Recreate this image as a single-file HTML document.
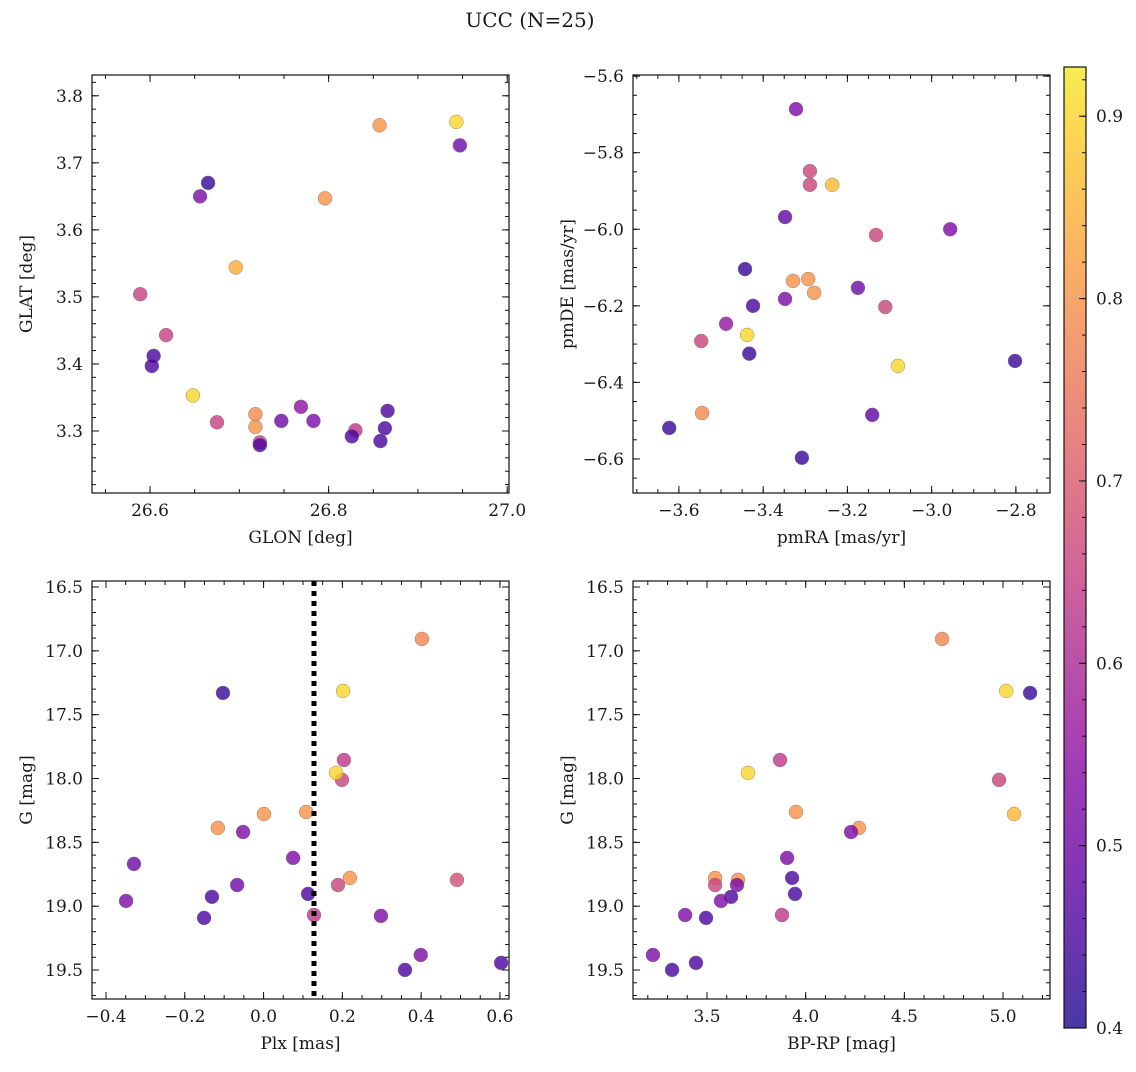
<!DOCTYPE html>
<html><head><meta charset="utf-8"><style>
html,body{margin:0;padding:0;background:#fff;}
svg text{font-family:"DejaVu Serif","Liberation Serif",serif;fill:#1a1a1a;}
</style></head><body>
<svg id="fig" width="1136" height="1067" xmlns="http://www.w3.org/2000/svg">
<text x="530" y="27" font-size="20" text-anchor="middle">UCC (N=25)</text>
</svg>
<script>
// Panel data
const glon=[26.857,26.943,26.947,26.665,26.656,26.796,26.696,26.589,26.618,26.604,26.602,26.648,26.675,26.718,26.718,26.723,26.723,26.747,26.769,26.783,26.830,26.826,26.866,26.863,26.858];
const glat=[3.756,3.761,3.726,3.670,3.650,3.647,3.544,3.504,3.443,3.412,3.397,3.353,3.313,3.325,3.306,3.283,3.279,3.315,3.336,3.315,3.301,3.292,3.330,3.304,3.285];
const c1=[0.80,0.90,0.50,0.43,0.52,0.80,0.84,0.65,0.65,0.45,0.45,0.90,0.65,0.79,0.80,0.65,0.45,0.50,0.55,0.52,0.63,0.45,0.45,0.45,0.45];
const pmra=[-3.322,-3.289,-3.289,-3.236,-3.348,-2.956,-3.132,-3.443,-3.293,-3.329,-3.279,-3.175,-3.110,-3.424,-3.348,-3.488,-3.438,-3.433,-3.547,-3.080,-2.802,-3.545,-3.141,-3.623,-3.308];
const pmde=[-5.686,-5.848,-5.884,-5.884,-5.968,-6.000,-6.015,-6.104,-6.130,-6.135,-6.166,-6.153,-6.203,-6.200,-6.182,-6.247,-6.276,-6.325,-6.292,-6.357,-6.344,-6.480,-6.485,-6.519,-6.597];
const c2=[0.52,0.66,0.66,0.86,0.48,0.52,0.66,0.43,0.80,0.80,0.80,0.50,0.66,0.45,0.52,0.56,0.90,0.43,0.66,0.90,0.43,0.79,0.48,0.43,0.43];
const plx=[0.402,-0.103,0.202,0.204,0.199,0.184,0.108,0.001,-0.116,-0.052,0.075,0.219,0.189,0.491,-0.329,-0.067,-0.131,0.113,-0.349,-0.151,0.128,0.298,0.399,0.359,0.603];
const gmag=[16.907,17.330,17.314,17.855,18.011,17.956,18.262,18.278,18.387,18.419,18.622,18.779,18.834,18.794,18.669,18.834,18.927,18.904,18.959,19.092,19.069,19.076,19.382,19.499,19.444];
const c3=[0.78,0.43,0.90,0.63,0.66,0.90,0.80,0.80,0.80,0.52,0.52,0.80,0.66,0.68,0.50,0.50,0.45,0.45,0.52,0.45,0.63,0.52,0.52,0.45,0.45];
const bprp=[4.691,5.137,5.016,3.870,4.980,3.708,3.951,5.056,4.270,4.230,3.906,3.931,3.541,3.541,3.657,3.652,3.622,3.946,3.571,3.495,3.880,3.389,3.226,3.323,3.444];
const g4=[16.907,17.330,17.314,17.855,18.011,17.956,18.262,18.278,18.387,18.419,18.622,18.779,18.779,18.834,18.794,18.834,18.927,18.904,18.959,19.092,19.069,19.069,19.382,19.499,19.444];
const c4=[0.78,0.43,0.90,0.63,0.66,0.90,0.80,0.86,0.80,0.52,0.52,0.45,0.80,0.66,0.80,0.52,0.45,0.45,0.52,0.45,0.63,0.52,0.52,0.45,0.45];
const plxLine=0.128;
const cbTicks=[0.4,0.5,0.6,0.7,0.8,0.9];

const NS="http://www.w3.org/2000/svg";
const svg=document.getElementById('fig');
function mk(tag,at,parent){const e=document.createElementNS(NS,tag);for(const k in at)e.setAttribute(k,at[k]);(parent||svg).appendChild(e);return e;}
const stops=[[13,8,135],[84,2,163],[139,10,165],[185,50,137],[219,92,104],[244,136,73],[254,188,43],[240,249,33]];
function plasma(t){t=Math.max(0,Math.min(1,t));const p=t*(stops.length-1);const i=Math.min(stops.length-2,Math.floor(p));const f=p-i;const a=stops[i],b=stops[i+1];return `rgb(${Math.round(a[0]+(b[0]-a[0])*f)},${Math.round(a[1]+(b[1]-a[1])*f)},${Math.round(a[2]+(b[2]-a[2])*f)})`;}
const cmin=0.4,cmax=0.927;
function cnorm(v){return (v-cmin)/(cmax-cmin)*0.93+0.03;}

function panel(name,L,T,R,B,xr,yr,xmaj,xmin,ymaj,ymin,xdec,ydec,xlab,ylab,xs,ys,cs,inv){
  const g=mk('g',{});
  
  
  const sx=v=>L+(v-xr[0])/(xr[1]-xr[0])*(R-L);
  const sy=inv?(v=>T+(v-yr[0])/(yr[1]-yr[0])*(B-T)):(v=>B-(v-yr[0])/(yr[1]-yr[0])*(B-T));
  for(let i=0;i<xs.length;i++){
    const c=mk('circle',{cx:sx(xs[i]),cy:sy(ys[i]),r:7,fill:plasma(cnorm(cs[i])),'fill-opacity':0.8,stroke:'#777','stroke-width':0.4},g);
    
    
  }
  const fr=mk('rect',{x:L,y:T,width:R-L,height:B-T,fill:'none',stroke:'#111','stroke-width':1.2},g);
  
  
  const ylo=Math.min(yr[0],yr[1]),yhi=Math.max(yr[0],yr[1]);
  function ticks(lo,hi,step,len,isX,label,dec){
    const s=Math.ceil(lo/step-1e-6);
    for(let k=s;k*step<=hi+1e-9;k++){
      const v=k*step;
      if(isX){const x=sx(v);mk('line',{x1:x,x2:x,y1:B,y2:B-len,stroke:'#111','stroke-width':1},g);mk('line',{x1:x,x2:x,y1:T,y2:T+len,stroke:'#111','stroke-width':1},g);
        if(label){const t=mk('text',{x:x,y:B+23,'font-size':17,'text-anchor':'middle'},g);t.textContent=(v<0?'−':'')+Math.abs(v).toFixed(dec);}}
      else{const y=sy(v);mk('line',{y1:y,y2:y,x1:L,x2:L+len,stroke:'#111','stroke-width':1},g);mk('line',{y1:y,y2:y,x1:R,x2:R-len,stroke:'#111','stroke-width':1},g);
        if(label){const t=mk('text',{x:L-9,y:y+6,'font-size':17,'text-anchor':'end'},g);t.textContent=(v<0?'−':'')+Math.abs(v).toFixed(dec);}}
    }
  }
  ticks(xr[0],xr[1],xmin,4,true,false);ticks(xr[0],xr[1],xmaj,7,true,true,xdec);
  ticks(ylo,yhi,ymin,4,false,false);ticks(ylo,yhi,ymaj,7,false,true,ydec);
  const xl=mk('text',{x:(L+R)/2,y:B+50,'font-size':17,'text-anchor':'middle'},g);xl.textContent=xlab;
  
  const yx=L-60,yy=(T+B)/2;
  const yl=mk('text',{x:yx,y:yy,'font-size':17,'text-anchor':'middle',transform:`rotate(-90 ${yx} ${yy})`},g);yl.textContent=ylab;
  
  return {sx,sy,g};
}
panel('panel-position',92,75,509,493,[26.535,27.002],[3.2075,3.831],0.2,0.05,0.1,0.02,1,1,'GLON [deg]','GLAT [deg]',glon,glat,c1,false);
panel('panel-proper-motion',633,75,1050,493,[-3.709,-2.719],[-6.689,-5.597],0.2,0.05,0.2,0.05,1,1,'pmRA [mas/yr]','pmDE [mas/yr]',pmra,pmde,c2,false);
const p3=panel('panel-parallax',92,581,509,999,[-0.4355,0.623],[16.453,19.727],0.2,0.05,0.5,0.1,1,1,'Plx [mas]','G [mag]',plx,gmag,c3,true);
const vl=mk('line',{x1:p3.sx(plxLine),x2:p3.sx(plxLine),y1:581,y2:999,stroke:'#000','stroke-width':5,'stroke-dasharray':'5,5'},p3.g);


panel('panel-cmd',633,581,1050,999,[3.125,5.238],[16.453,19.727],0.5,0.1,0.5,0.1,1,1,'BP-RP [mag]','G [mag]',bprp,g4,c4,true);

// colorbar
const cb=mk('g',{});


const defs=mk('defs',{},svg);
const lg=mk('linearGradient',{id:'cbg',x1:0,y1:1,x2:0,y2:0},defs);
for(let i=0;i<=20;i++){mk('stop',{offset:i/20,'stop-color':plasma(i/20*0.93+0.03),'stop-opacity':0.8},lg);}
const CT=67,CB=1028,CL=1064,CR=1086;
mk('rect',{x:CL,y:CT,width:CR-CL,height:CB-CT,fill:'url(#cbg)',stroke:'#111','stroke-width':1.2},cb);
const cy=v=>CB-(v-cmin)/(cmax-cmin)*(CB-CT);
for(let v=0.4;v<=0.927;v+=0.02){mk('line',{x1:CR,x2:CR-4,y1:cy(v),y2:cy(v),stroke:'#111'},cb);}
cbTicks.forEach(v=>{mk('line',{x1:CR,x2:CR-7,y1:cy(v),y2:cy(v),stroke:'#111'},cb);
  const t=mk('text',{x:CR+10,y:cy(v)+6,'font-size':17},cb);t.textContent=v.toFixed(1);
  
  });
</script>
</body></html>
